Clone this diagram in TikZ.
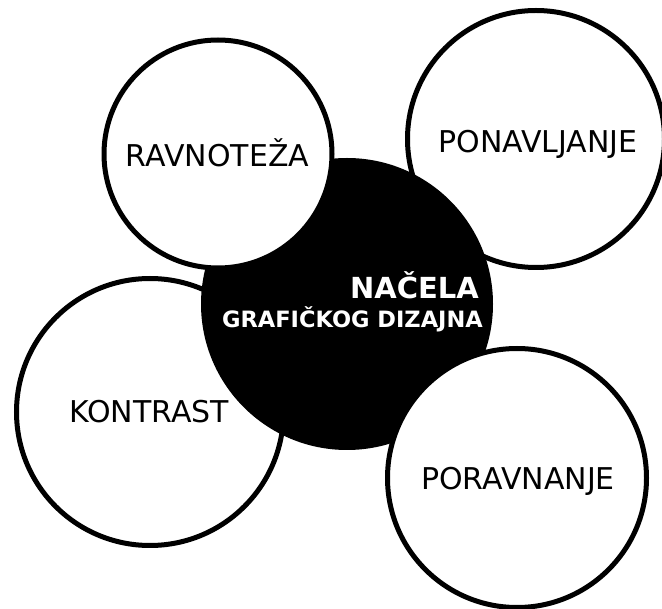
\documentclass[tikz,border=0pt]{standalone}
\usepackage{fontspec}
\setmainfont{DejaVu Sans}
\usepackage{tikz}
\usetikzlibrary{calc}

\begin{document}
\begin{tikzpicture}[x=1pt,y=-1pt,
	ring/.style={circle, draw=black, fill=white, line width=5pt, inner sep=0pt},
	word/.style={anchor=base, inner sep=0pt, font=\fontsize{30}{36}\selectfont}]
	\useasboundingbox (0,0) rectangle (662,609);
	% white circles behind the black one
	\node[ring, minimum size=267pt] (kontrast) at (150,412) {};
	\node[ring, minimum size=257pt] (ponavljanje) at (536,139) {};
	\node[circle, fill=black, inner sep=0pt, minimum size=292pt] (nacela) at (347,304) {};
	% white circles in front
	\node[ring, minimum size=228pt] (ravnoteza) at (218,154) {};
	\node[ring, minimum size=259pt] (poravnanje) at (517,478) {};

	\node[word] (t-ravnoteza) at (217.5,167) {RAVNOTEŽA};
	\node[word] (t-ponavljanje) at (538,153) {PONAVLJANJE};
	\node[word] (t-kontrast) at (149,423) {KONTRAST};
	\node[word] (t-poravnanje) at (518,490) {PORAVNANJE};
	\node[anchor=base east, inner sep=0pt, text=white, font=\bfseries\fontsize{29}{34}\selectfont] (t-nacela) at (479,299) {NAČELA};
	\node[anchor=base east, inner sep=0pt, text=white, font=\bfseries\fontsize{22.5}{27}\selectfont] (t-dizajn) at (483,328) {GRAFIČKOG DIZAJNA};
\end{tikzpicture}
\end{document}
